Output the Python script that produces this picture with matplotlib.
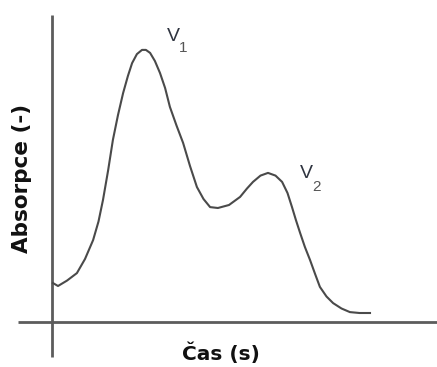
import numpy as np
import matplotlib as mpl
import matplotlib.pyplot as plt
mpl.use('agg')

## curve (time in arbitrary units, absorbance in arbitrary units)
cas = [0.03, 0.2, 0.5, 0.83, 1.1, 1.37, 1.55, 1.7, 1.87, 2.03, 2.2, 2.37, 2.53, 2.67, 2.83, 3.0,
       3.13, 3.27, 3.43, 3.6, 3.77, 3.93, 4.15, 4.37, 4.6, 4.83, 5.05, 5.27, 5.53, 5.9, 6.27,
       6.5, 6.7, 6.95, 7.2, 7.45, 7.67, 7.85, 8.0, 8.13, 8.27, 8.43, 8.6, 8.77, 8.93, 9.15,
       9.37, 9.65, 9.93, 10.25, 10.6]
absorpce = [1.30, 1.20, 1.38, 1.63, 2.1, 2.73, 3.35, 4.07, 5.05, 6.07, 6.9, 7.63, 8.2, 8.63, 8.93, 9.07,
            9.07, 8.97, 8.7, 8.3, 7.8, 7.17, 6.55, 5.97, 5.2, 4.5, 4.1, 3.83, 3.8, 3.9, 4.17,
            4.45, 4.67, 4.88, 4.97, 4.88, 4.67, 4.3, 3.83, 3.4, 2.97, 2.5, 2.07, 1.6, 1.17, 0.85,
            0.63, 0.45, 0.33, 0.3, 0.3]

##--##--  create figure  --##--##
fig = plt.figure(figsize=(4.37, 3.67), dpi=100)
ax = plt.axes([0, 0, 1, 1])
ax.set_xlim(-52/30, 385/30)
ax.set_ylim(-45/30, 322/30)
ax.axis('off')

line_col = '#5c5c5c'
ax.plot([-34/30, 385/30], [0, 0], color=line_col, linewidth=2.0, solid_capstyle='butt')
ax.plot([0, 0], [-35/30, 307/30], color=line_col, linewidth=2.0, solid_capstyle='butt')

ax.plot(cas, absorpce, color='#4a4a4a', linewidth=1.5)

## peak labels V1, V2
ax.text(3.83, 9.37, 'V', fontsize=14, color='#2f3440', family='Liberation Sans', va='baseline')
ax.text(4.23, 9.0, '1', fontsize=11, color='#555555', family='Liberation Sans', va='baseline')
ax.text(8.27, 4.8, 'V', fontsize=14, color='#2f3440', family='Liberation Sans', va='baseline')
ax.text(8.67, 4.37, '2', fontsize=11, color='#555555', family='Liberation Sans', va='baseline')

ax.text(-1.0, 4.77, 'Absorpce (-)', rotation=90, ha='center', va='center',
        fontsize=15.5, fontweight='bold', family='DejaVu Sans', color='#111111')
ax.text(5.63, -1.27, 'Čas (s)', ha='center', va='baseline',
        fontsize=14.5, fontweight='bold', family='DejaVu Sans', color='#111111')

fig.savefig('out.png', dpi=100)
